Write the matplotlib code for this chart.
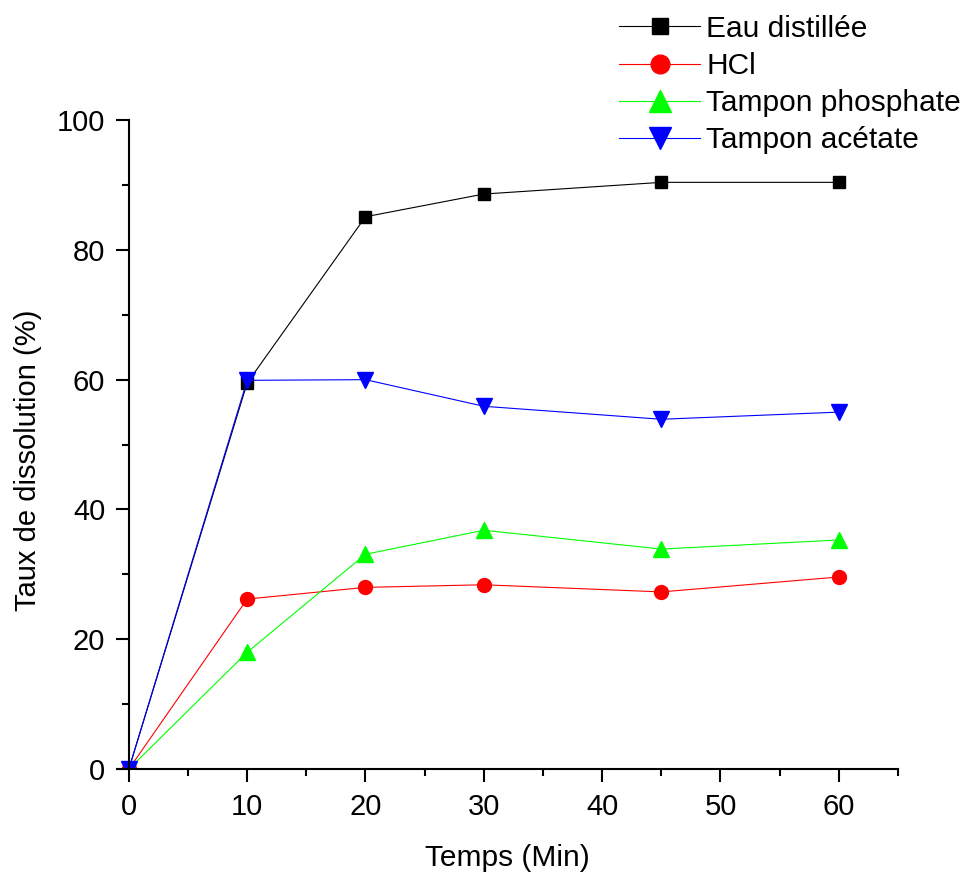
import matplotlib
matplotlib.use("Agg")
import matplotlib.pyplot as plt
from matplotlib.ticker import MultipleLocator

plt.rcParams['font.family'] = ['Liberation Sans', 'DejaVu Sans']

temps = [0, 10, 20, 30, 45, 60]
eau = [0, 59.5, 85.1, 88.6, 90.4, 90.4]
hcl = [0, 26.2, 28.0, 28.4, 27.3, 29.6]
phosphate = [0, 18.0, 33.1, 36.8, 33.9, 35.3]
acetate = [0, 59.9, 60.0, 55.9, 53.9, 55.0]
labels = ['Eau distillée', 'HCl', 'Tampon phosphate', 'Tampon acétate']

fig = plt.figure(figsize=(9.75, 8.73), dpi=100)
ax = fig.add_axes([0.12, 0.119, 0.801, 0.7435])

ax.plot(temps, eau, color='black', lw=0.8, marker='s', ms=8.5, label=labels[0])
ax.plot(temps, hcl, color='red', lw=0.8, marker='o', ms=10, label=labels[1])
ax.plot(temps, phosphate, color='#00ff00', lw=0.8, marker='^', ms=11.5, label=labels[2])
ax.plot(temps, acetate, color='blue', lw=0.8, marker='v', ms=11.5, label=labels[3])

ax.set_xlim(-1, 65)
ax.set_ylim(0, 100)
ax.spines['top'].set_visible(False)
ax.spines['right'].set_visible(False)
ax.spines['left'].set_position(('data', 0))
ax.spines['left'].set_linewidth(1.5)
ax.spines['bottom'].set_linewidth(1.5)
ax.xaxis.set_major_locator(MultipleLocator(10))
ax.xaxis.set_minor_locator(MultipleLocator(5))
ax.yaxis.set_major_locator(MultipleLocator(20))
ax.yaxis.set_minor_locator(MultipleLocator(10))
ax.tick_params(which='major', direction='out', length=9.5, width=1.5, labelsize=21, pad=7.5)
ax.tick_params(which='minor', direction='out', length=5, width=1.5)
ax.set_xlabel('Temps (Min)', fontsize=21.5, labelpad=17)
ax.set_ylabel('Taux de dissolution (%)', fontsize=21, labelpad=11)
ax.yaxis.label.set_y(0.475)

fig.legend(loc='upper left', bbox_to_anchor=(0.629, 0.990), frameon=False,
           fontsize=21.5, handlelength=2.7, handletextpad=0.22, labelspacing=0.31,
           borderaxespad=0, borderpad=0.2, markerscale=1.35)

fig.savefig('out.png', dpi=100)
